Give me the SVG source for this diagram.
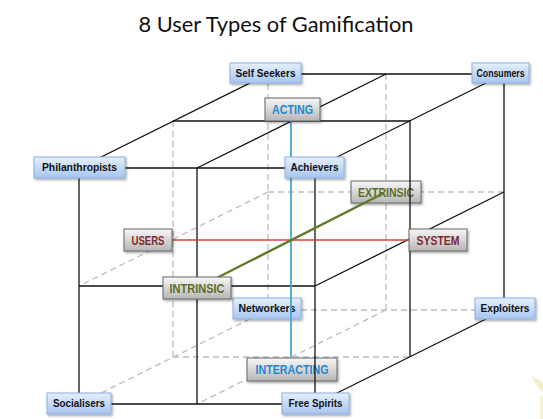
<svg xmlns="http://www.w3.org/2000/svg" width="543" height="419" viewBox="0 0 543 419">
<style>
.bg{fill:#ffffff}
.title{font-family:"Lato","Open Sans","Liberation Sans",sans-serif;font-size:22px;fill:#111}
.s{stroke:#111;stroke-width:1.3;fill:none}
.d{stroke:#bdbdbd;stroke-width:1.3;stroke-dasharray:6,4;fill:none}
.pbox{fill:url(#gp);stroke:#8eb0dd;stroke-width:1;filter:url(#sh)}
.lbox{fill:url(#gl);stroke:#666;stroke-width:1;filter:url(#sh)}
.pt{font-family:"Liberation Sans",Arial,sans-serif;font-weight:bold;font-size:10.5px;fill:#111;text-anchor:middle}
.lt{font-family:"Liberation Sans",Arial,sans-serif;font-weight:bold;font-size:12px;text-anchor:middle}
.blue{fill:#1f87cf}
.red{fill:#7d2a2a}
.grn{fill:#5c6e2b}
</style>
<defs>
<linearGradient id="gp" x1="0" y1="0" x2="0" y2="1">
<stop offset="0" stop-color="#e6f0fd"/>
<stop offset="1" stop-color="#a7c5ef"/>
</linearGradient>
<linearGradient id="gl" x1="0" y1="0" x2="0" y2="1">
<stop offset="0" stop-color="#f7f7f7"/>
<stop offset="1" stop-color="#b6b6b6"/>
</linearGradient>
<filter id="sh" x="-20%" y="-30%" width="140%" height="170%">
<feDropShadow dx="1.2" dy="1.5" stdDeviation="1" flood-color="#000" flood-opacity="0.35"/>
</filter>
</defs>
<rect class="bg" x="0" y="0" width="543" height="419"/>
<text class="title" x="276" y="32" text-anchor="middle" textLength="275" lengthAdjust="spacingAndGlyphs">8 User Types of Gamification</text>

<g id="connectors-back">
<line class="d" x1="268" y1="74" x2="268" y2="298"/>
<line class="d" x1="386" y1="74" x2="386" y2="310"/>
<line class="d" x1="173" y1="121" x2="173" y2="357"/>
<line class="d" x1="268" y1="192" x2="504" y2="192"/>
<line class="d" x1="301" y1="310" x2="475" y2="310"/>
<line class="d" x1="173" y1="357" x2="410" y2="357"/>
<line class="d" x1="268" y1="192" x2="79" y2="286"/>
<line class="d" x1="268" y1="310" x2="79" y2="404"/>
<line class="d" x1="386" y1="310" x2="197" y2="404"/>
</g>

<g id="extrinsic"><rect class="lbox" x="351" y="181" width="70" height="22"/><text class="lt grn" x="386" y="196.5" textLength="56" lengthAdjust="spacingAndGlyphs">EXTRINSIC</text></g>
<g id="interacting"><rect class="lbox" x="247" y="358" width="90" height="23"/><text class="lt blue" x="292" y="374" textLength="73" lengthAdjust="spacingAndGlyphs">INTERACTING</text></g>
<g id="networkers"><rect class="pbox" x="233" y="298" width="68" height="21"/><text class="pt" x="267" y="312.3" textLength="57" lengthAdjust="spacingAndGlyphs">Networkers</text></g>

<g id="connectors">
<line class="s" x1="268" y1="74" x2="504" y2="74"/>
<line class="s" x1="268" y1="74" x2="79" y2="168"/>
<line class="s" x1="386" y1="74" x2="197" y2="168"/>
<line class="s" x1="504" y1="74" x2="315" y2="168"/>
<line class="s" x1="173" y1="121" x2="410" y2="121"/>
<line class="s" x1="79" y1="168" x2="315" y2="168"/>
<line class="s" x1="504" y1="74" x2="504" y2="310"/>
<line class="s" x1="410" y1="121" x2="410" y2="357"/>
<line class="s" x1="79" y1="168" x2="79" y2="404"/>
<line class="s" x1="197" y1="168" x2="197" y2="404"/>
<line class="s" x1="315" y1="168" x2="315" y2="404"/>
<line class="s" x1="79" y1="404" x2="315" y2="404"/>
<line class="s" x1="79" y1="286" x2="315" y2="286"/>
<line class="s" x1="504" y1="192" x2="315" y2="286"/>
<line class="s" x1="504" y1="310" x2="315" y2="404"/>
<line x1="172" y1="240" x2="409" y2="240" stroke="#d8403a" stroke-width="1.6"/>
<line x1="291" y1="121" x2="291" y2="358" stroke="#3fa9da" stroke-width="1.8"/>
<line x1="197" y1="288" x2="384" y2="193" stroke="#5b7a2a" stroke-width="2.4"/>
</g>

<g id="acting"><rect class="lbox" x="265" y="98" width="55" height="23"/><text class="lt blue" x="292.5" y="114" textLength="41" lengthAdjust="spacingAndGlyphs">ACTING</text></g>
<g id="users"><rect class="lbox" x="124" y="229" width="48" height="22"/><text class="lt red" x="148" y="244.5" textLength="33" lengthAdjust="spacingAndGlyphs">USERS</text></g>
<g id="system"><rect class="lbox" x="409" y="229" width="58" height="22"/><text class="lt red" x="438" y="244.5" textLength="43" lengthAdjust="spacingAndGlyphs">SYSTEM</text></g>
<g id="intrinsic"><rect class="lbox" x="163" y="277" width="68" height="22"/><text class="lt grn" x="197" y="292.5" textLength="55" lengthAdjust="spacingAndGlyphs">INTRINSIC</text></g>

<g id="self-seekers"><rect class="pbox" x="230" y="63" width="71" height="20"/><text class="pt" x="265.5" y="76.8" textLength="60" lengthAdjust="spacingAndGlyphs">Self Seekers</text></g>
<g id="consumers"><rect class="pbox" x="472" y="63" width="57" height="20"/><text class="pt" x="500.5" y="76.8" textLength="48" lengthAdjust="spacingAndGlyphs">Consumers</text></g>
<g id="philanthropists"><rect class="pbox" x="34" y="157" width="91" height="21"/><text class="pt" x="79.5" y="171.3" textLength="75" lengthAdjust="spacingAndGlyphs">Philanthropists</text></g>
<g id="achievers"><rect class="pbox" x="285" y="157" width="59" height="21"/><text class="pt" x="314.5" y="171.3" textLength="48" lengthAdjust="spacingAndGlyphs">Achievers</text></g>
<g id="exploiters"><rect class="pbox" x="475" y="298" width="60" height="21"/><text class="pt" x="505" y="312.3" textLength="49" lengthAdjust="spacingAndGlyphs">Exploiters</text></g>
<g id="socialisers"><rect class="pbox" x="47" y="393" width="64" height="21"/><text class="pt" x="79" y="407.3" textLength="52" lengthAdjust="spacingAndGlyphs">Socialisers</text></g>
<g id="free-spirits"><rect class="pbox" x="282" y="393" width="67" height="21"/><text class="pt" x="315.5" y="407.3" textLength="54" lengthAdjust="spacingAndGlyphs">Free Spirits</text></g>

<path d="M532 377 Q538 378 543 383 L543 392 Q537 388 532 377 Z" fill="#f4f0c6"/>
<rect x="540" y="396" width="3" height="23" fill="#f6f3d6"/>
</svg>
